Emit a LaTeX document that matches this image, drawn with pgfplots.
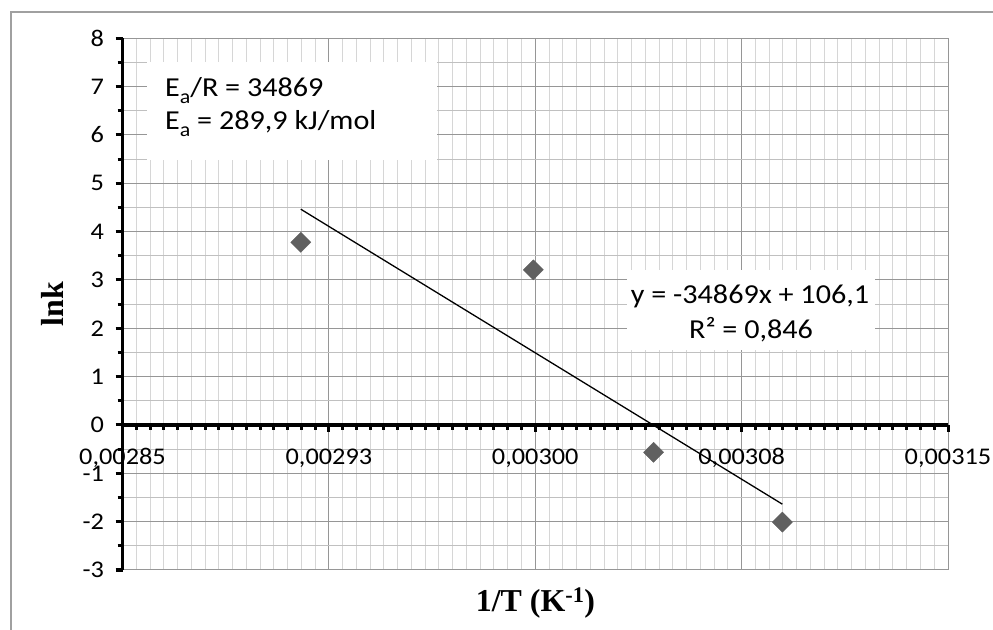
\documentclass[border=0pt]{standalone}
\usepackage{pgfplots}
\pgfplotsset{compat=1.18}
\usepackage{fontspec}
\setmainfont{Carlito}[FakeStretch=1.1]
\newfontfamily\tnr{Liberation Serif}

\definecolor{gridmaj}{RGB}{150,150,150}
\definecolor{gridminy}{RGB}{192,192,192}
\definecolor{gridminx}{RGB}{214,214,214}
\definecolor{markgray}{RGB}{96,96,96}
\definecolor{framegray}{RGB}{160,160,160}
\newcommand\sub[1]{\raisebox{-0.25em}{\fontsize{20}{20}\selectfont #1}}

\begin{document}
\begin{tikzpicture}
\useasboundingbox (0,0) rectangle (993bp,630bp);
\draw[framegray, line width=1.2bp] (11bp,-5bp) -- (11bp,618bp) -- (1000bp,618bp);
\begin{axis}[
  at={(122.5bp,60bp)}, anchor=south west,
  scale only axis, width=825.5bp, height=531.7bp,
  xmin=0.00285, xmax=0.00315, ymin=-3, ymax=8,
  axis x line=middle, axis y line=left,
  axis line style={-, line width=3.5bp, black},
  xtick={0.00285,0.002925,0.003,0.003075,0.00315},
  xticklabels={{0,00285},{0,00293},{0,00300},{0,00308},{0,00315}},
  scaled x ticks=false,
  minor x tick num=14,
  ytick={-3,-2,-1,0,1,2,3,4,5,6,7,8},
  yticklabels={-3,-2,-1,0,1,2,3,4,5,6,7,8},
  minor y tick num=1,
  tick align=outside,
  major tick length=7bp, minor tick length=5bp,
  tick style={black, line width=3bp},
  grid=both,
  major grid style={gridmaj, line width=1bp},
  minor y grid style={gridminy, line width=1bp},
  minor x grid style={gridminx, line width=1bp},
  hide obscured x ticks=false, hide obscured y ticks=false,
  tick label style={font=\fontsize{24}{25}\selectfont},
  yticklabel style={xshift=-8bp},
  xticklabel style={yshift=-13bp},
  clip=false,
]
% measured points (1/T, ln k)
\addplot[only marks, mark=square*, mark size=7.1bp,
  mark options={rotate=45, fill=markgray, draw=markgray}]
  coordinates {(0.0029148,3.78)(0.0029993,3.21)(0.0030430,-0.565)(0.0030898,-2.01)};
% linear trend line y = -34869x + 106.1
\addplot[black, line width=1.3bp, no marks]
  coordinates {(0.0029148,4.464)(0.0030898,-1.638)};
\end{axis}

\fill[white] (147bp,470bp) rectangle (437bp,568bp);
\node[anchor=base west, inner sep=0, font=\fontsize{27.5}{28}\selectfont]
  at (165bp,533bp) {E\sub{a}/R = 34869};
\node[anchor=base west, inner sep=0, font=\fontsize{27.5}{28}\selectfont]
  at (165bp,500bp) {E\sub{a} = 289,9 kJ/mol};

\fill[white] (627bp,280bp) rectangle (875bp,360bp);
\node[anchor=base, inner sep=0, font=\fontsize{27.5}{28}\selectfont]
  at (750bp,326.7bp) {y = -34869x + 106,1};
\node[anchor=base, inner sep=0, font=\fontsize{27.5}{28}\selectfont]
  at (751bp,291.7bp) {R² = 0,846};

\node[anchor=base, inner sep=0, font={\tnr\bfseries\fontsize{32}{34}\selectfont}]
  at (535.5bp,18.3bp) {1/T (K\textsuperscript{-1})};
\node[anchor=base, inner sep=0, rotate=90, font={\tnr\bfseries\fontsize{32}{34}\selectfont}]
  at (63.3bp,326bp) {lnk};
\end{tikzpicture}
\end{document}
